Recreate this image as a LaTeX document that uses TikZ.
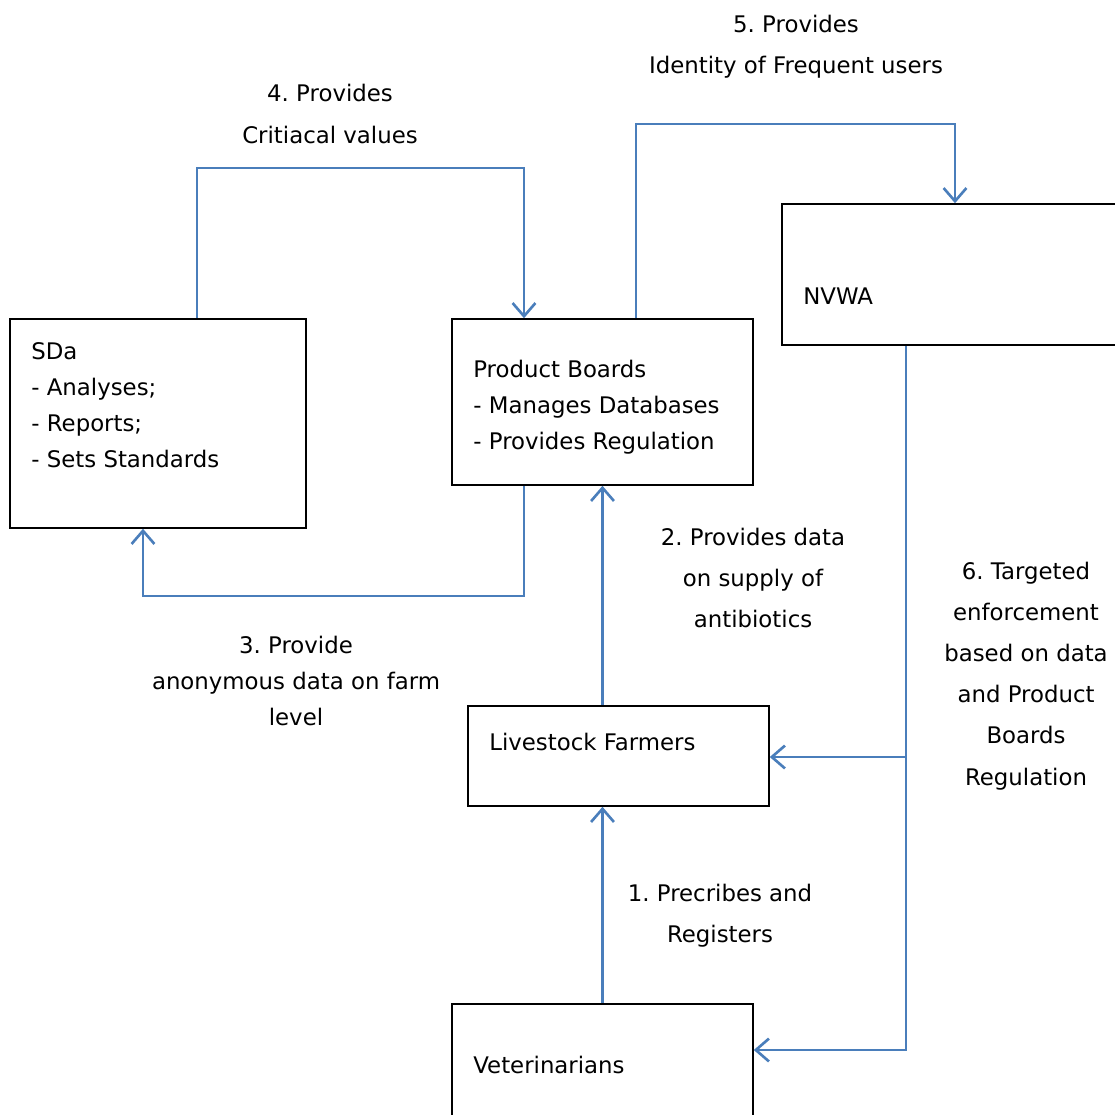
\documentclass[tikz,border=0pt]{standalone}
\usepackage{fontspec}
\setmainfont{DejaVu Sans}
\usetikzlibrary{arrows.meta}
\definecolor{linkblue}{HTML}{4A7EBB}
\frenchspacing
\tikzset{
  box/.style={draw=black,line width=0.9pt,inner sep=0pt,fill=white},
  boxtext/.style={inner sep=0pt,align=left,anchor=west,font=\fontsize{13pt}{20.5pt}\selectfont},
  lab/.style={inner sep=0pt,align=center,font=\fontsize{13pt}{23.4pt}\selectfont},
  link/.style={draw=linkblue,line width=1.5pt,-{Straight Barb[length=7.5pt,width=13pt,line width=1.5pt]}}
}
\begin{document}
\begin{tikzpicture}[x=0.02cm,y=-0.02cm]
        \useasboundingbox (0,0) rectangle (1115,1115);
        \clip (0,0) rectangle (1115,1115);
        % boxes
        \node[box,minimum width=5.92cm,minimum height=4.18cm] (sda) at (158,423.5) {};
        \node[box,minimum width=6.02cm,minimum height=3.32cm] (pb) at (602.5,402) {};
        \node[box,minimum width=7.06cm,minimum height=2.82cm] (nvwa) at (958.5,274.5) {};
        \node[box,minimum width=6.02cm,minimum height=2.00cm] (farm) at (618.5,756) {};
        \node[box,minimum width=6.02cm,minimum height=2.52cm] (vet) at (602.5,1067) {};
        \node[boxtext] (sdatext) at (31,405) {SDa\\- Analyses;\\- Reports;\\- Sets Standards};
        \node[boxtext] (pbtext) at (473,407) {Product Boards\\- Manages Databases\\- Provides Regulation};
        \node[boxtext] (nvwatext) at (803,296) {NVWA};
        \node[boxtext] (farmtext) at (489,742) {Livestock Farmers};
        \node[boxtext] (vettext) at (473,1065) {Veterinarians};
        % labels
        \node[lab] (lab5) at (796,47) {5. Provides\\Identity of Frequent users};
        \node[lab] (lab4) at (330,114) {4. Provides\\Critiacal values};
        \node[lab,font=\fontsize{13pt}{20.5pt}\selectfont] (lab3) at (296,681) {3. Provide\\anonymous data on farm\\level};
        \node[lab] (lab2) at (753,578) {2. Provides data\\on supply of\\antibiotics};
        \node[lab] (lab6) at (1026,676) {6. Targeted\\enforcement\\based on data\\and Product\\Boards\\Regulation};
        \node[lab] (lab1) at (720,916) {1. Precribes and\\Registers};
        % connectors
        \coordinate (c4a) at (197,168);
        \coordinate (c4b) at (524,168);
        \coordinate (c5a) at (636,124);
        \coordinate (c5b) at (955,124);
        \coordinate (c3a) at (524,596);
        \coordinate (c3b) at (143,596);
        \coordinate (c6a) at (906,1050);
        \coordinate (c6b) at (906,757);
        \draw[link] (sda.north -| c4a) -- (c4a) -- (c4b) -- (pb.north -| c4b);
        \draw[link] (pb.north -| c5a) -- (c5a) -- (c5b) -- (nvwa.north -| c5b);
        \draw[link] (pb.south -| c3a) -- (c3a) -- (c3b) -- (sda.south -| c3b);
        \draw[link] (farm.north -| pb.south) -- (pb.south);
        \draw[link] (vet.north) -- (farm.south -| vet.north);
        \draw[link] (nvwa.south -| c6a) -- (c6a) -- (vet.east |- c6a);
        \draw[link] (c6b) -- (farm.east |- c6b);
\end{tikzpicture}
\end{document}
